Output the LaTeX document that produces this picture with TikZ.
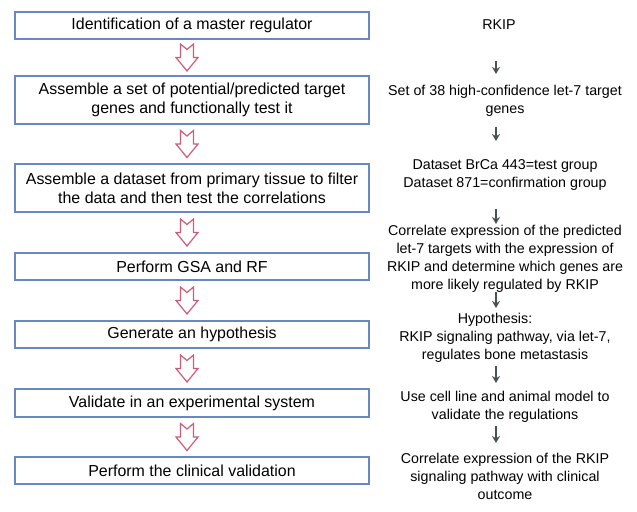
\documentclass[tikz,border=0pt]{standalone}
\usepackage{fontspec}
\setmainfont{Liberation Sans}
\usetikzlibrary{calc, arrows.meta}
\definecolor{boxblue}{RGB}{104,136,196}
\definecolor{flowrose}{RGB}{206,92,118}
\definecolor{stepgrey}{RGB}{72,82,82}
\tikzset{%
	stage/.style = {name = #1, draw = boxblue, line width = 1.4bp, minimum width = 354bp, inner sep = 0pt, align = center, font = \fontsize{16}{19}\selectfont},
	result/.style = {name = #1, align = center, inner sep = 0pt, font = \fontsize{14.3}{18}\selectfont},
	stepdown/.style = {draw = stepgrey, line width = 1.7bp, -{Stealth[length = 7bp, width = 8bp]}},
	hollowdown/.pic = {\draw [flowrose, line width = 1.2bp, fill = white, line join = miter] (-6.5,-13.5) -- (0,-8) -- (6.5,-13.5) -- (6.5,0) -- (11,0) -- (0,13.5) -- (-11,0) -- (-6.5,0) -- cycle;}
}
\begin{document}
\begin{tikzpicture}[x = 1bp, y = -1bp]
			\useasboundingbox (0,0) rectangle (637,512);
			% left column: the steps
			\node [stage = {b1}, minimum height = 27bp] at (192,25.5) {Identification of a master regulator};
			\node [stage = {b2}, minimum height = 48bp] at (192,100) {Assemble a set of potential/predicted target\\genes and functionally test it};
			\node [stage = {b3}, minimum height = 48bp] at (192,188) {Assemble a dataset from primary tissue to filter\\the data and then test the correlations};
			\node [stage = {b4}, minimum height = 27bp] at (192,266.5) {Perform GSA and RF};
			\node [stage = {b5}, minimum height = 27bp] at (192,334.5) {Generate an hypothesis};
			\node [stage = {b6}, minimum height = 28bp] at (192,403) {Validate in an experimental system};
			\node [stage = {b7}, minimum height = 27bp] at (192,470.5) {Perform the clinical validation};
			% right column: the example
			\node [result = {r1}] at (499,25) {RKIP};
			\node [result = {r2}] at (505,101) {Set of 38 high-confidence let-7 target\\genes};
			\node [result = {r3}] at (505,175) {Dataset BrCa 443=test group\\Dataset 871=confirmation group};
			\node [result = {r4}] at (505,258.5) {Correlate expression of the predicted\\let-7 targets with the expression of\\RKIP and determine which genes are\\more likely regulated by RKIP};
			\node [result = {r5}] at (505,338) {Hypothesis:\hspace*{20bp}\\RKIP signaling pathway, via let-7,\\regulates bone metastasis};
			\node [result = {r6}] at (505,407) {Use cell line and animal model to\\validate the regulations};
			\node [result = {r7}] at (505,476) {Correlate expression of the RKIP\\signaling pathway with clinical\\outcome};
			\coordinate (col) at (496,0);
			\foreach \u/\v in {b1/b2, b2/b3, b3/b4, b4/b5, b5/b6, b6/b7}
				\path ($(\u.south)!.5!(\v.north)$) ++(-5,0) pic {hollowdown};
			\foreach \a/\b/\s/\e in {r1/r2/36/27, r2/r3/26/34, r3/r4/34/34.5, r4/r5/33.5/30, r5/r6/28/24, r6/r7/19/33}
				\draw [stepdown, shorten <= \s bp, shorten >= \e bp] (\a.center -| col) -- (\b.center -| col);
\end{tikzpicture}
\end{document}
